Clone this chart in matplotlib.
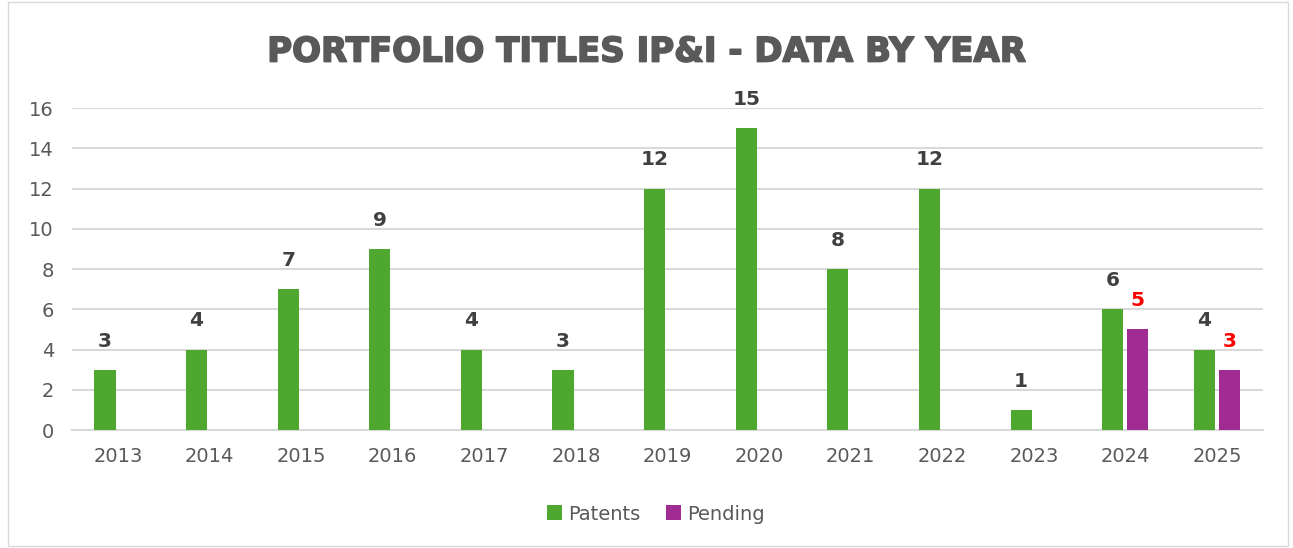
import matplotlib.pyplot as plt
import numpy as np
from matplotlib import patches, patheffects

years = ['2013', '2014', '2015', '2016', '2017', '2018', '2019',
         '2020', '2021', '2022', '2023', '2024', '2025']
patents = [3, 4, 7, 9, 4, 3, 12, 15, 8, 12, 1, 6, 4]
pending = [0, 0, 0, 0, 0, 0, 0, 0, 0, 0, 0, 5, 3]

green = '#4ea72e'
purple = '#a02b93'
grey_txt = '#595959'
grid_c = '#d9d9d9'

fig = plt.figure(figsize=(12.93, 5.48), dpi=100)
ax = fig.add_axes([0.0557, 0.2153, 0.921, 0.5876])

x = np.arange(len(years))
w = 0.23
xp = x - 0.14
xq = x + 0.135

ax.bar(xp, patents, w, color=green, label='Patents', zorder=3)
# only the last two years have pending titles
idx = [i for i, v in enumerate(pending) if v > 0]
ax.bar(xq[idx], [pending[i] for i in idx], w, color=purple, label='Pending', zorder=3)

for xi, v in zip(xp, patents):
    ax.text(xi, v + 0.95, str(v), ha='center', va='bottom', fontsize=14.5,
            fontweight='bold', color='#404040', clip_on=False)
for i in idx:
    ax.text(xq[i], pending[i] + 0.95, str(pending[i]), ha='center', va='bottom',
            fontsize=14.5, fontweight='bold', color='#ff0000', clip_on=False)

ax.set_xlim(-0.5, len(years) - 0.5)
ax.set_ylim(0, 16)
ax.set_yticks(range(0, 17, 2))
ax.set_xticks(x)
ax.set_xticklabels(years)
ax.yaxis.grid(True, color=grid_c, linewidth=1.5, zorder=0)
ax.set_axisbelow(True)
for s in ['top', 'right', 'left']:
    ax.spines[s].set_visible(False)
ax.spines['bottom'].set_color(grid_c)
ax.spines['bottom'].set_linewidth(1.5)
ax.tick_params(axis='both', length=0, labelsize=14, colors=grey_txt)
ax.tick_params(axis='x', pad=12)
ax.tick_params(axis='y', pad=13)

title = fig.text(0.5, 0.905, 'PORTFOLIO TITLES IP&I - DATA BY YEAR', ha='center', va='center',
                 fontsize=24.5, fontweight='bold', color=grey_txt)
title.set_path_effects([patheffects.withStroke(linewidth=1.2, foreground=grey_txt)])

leg = fig.legend(loc='center', bbox_to_anchor=(0.507, 0.062), ncol=2, frameon=False,
                 fontsize=14, handlelength=0.8, handleheight=0.8, handletextpad=0.3,
                 columnspacing=1.3)
for t in leg.get_texts():
    t.set_color(grey_txt)

# light frame round the chart area
fig.patches.append(patches.Rectangle((0.006, 0.004), 0.99, 0.992, transform=fig.transFigure,
                                     fill=False, edgecolor=grid_c, linewidth=1))

fig.savefig('out.png', dpi=100)
